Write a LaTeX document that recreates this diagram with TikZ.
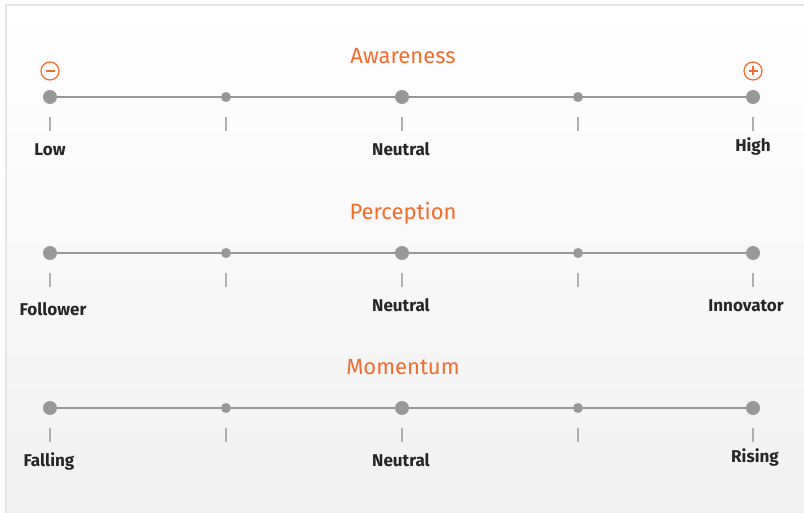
\documentclass[tikz,border=0pt]{standalone}
\usepackage{fontspec}
\setmainfont{Fira Sans}
\usetikzlibrary{positioning,calc}
\definecolor{accent}{RGB}{243,108,44}
\definecolor{axisgray}{RGB}{152,152,152}
\definecolor{tickgray}{RGB}{175,175,175}
\definecolor{panelline}{RGB}{230,230,230}
\definecolor{panelfill}{RGB}{241,241,241}
\tikzset{
bigdot/.style={circle, fill=axisgray, inner sep=0pt, minimum size=10.5pt},
smalldot/.style={circle, fill=axisgray, inner sep=0pt, minimum size=7.5pt},
axisline/.style={draw=axisgray, line width=2pt},
tickmark/.style={draw=tickgray, line width=1.1pt},
scaletitle/.style={text=accent, anchor=base, font=\fontsize{16.5}{19}\selectfont},
scalelabel/.style={text=black!85, anchor=base, font=\bfseries\fontsize{12.8}{15}\selectfont},
signmark/.style={circle, draw=accent, line width=0.9pt, inner sep=0pt, minimum size=13.5pt},
signbar/.style={draw=accent, line width=1pt},
}

\begin{document}
\begin{tikzpicture}[x=0.75pt, y=-0.75pt]
    \useasboundingbox (0,0) rectangle (804,513);
    \fill[white] (0,0) rectangle (804,513);
    \shade[top color=white, bottom color=panelfill, draw=panelline, line width=1.5pt]
        (6,5) rectangle (808,518);

    % three scales: name / y / title / low label / high label / label offsets
    \foreach \s/\y/\title/\lo/\hi/\loy/\hiy/\lox/\hix in {
        aw/97/Awareness/Low/High/59/55/50/753,
        pe/253/Perception/Follower/Innovator/63/59/53/746,
        mo/408/Momentum/Falling/Rising/59/55/49/755}{
        \node[bigdot]   (\s0) at (50,\y)  {};
        \node[smalldot] (\s1) at (226,\y) {};
        \node[bigdot]   (\s2) at (402,\y) {};
        \node[smalldot] (\s3) at (578,\y) {};
        \node[bigdot]   (\s4) at (753,\y) {};
        \draw[axisline] (\s0) -- (\s4);
        \foreach \i in {0,...,4}
            \draw[tickmark] ($(\s\i.center)+(0,20)$) -- ($(\s\i.center)+(0,34)$);
        \node[scaletitle] (\s title) at (403,\y-33) {\title};
        \node[scalelabel] (\s low)  at (\lox,\y+\loy) {\lo};
        \node[scalelabel] (\s mid)  at (401,\y+59)   {Neutral};
        \node[scalelabel] (\s high) at (\hix,\y+\hiy) {\hi};
    }

    % minus / plus markers
    \node[signmark] (minus) at (50,71)  {};
    \node[signmark] (plus)  at (753,71) {};
    \draw[signbar] ($(minus.center)+(-4.5,0)$) -- ($(minus.center)+(4.5,0)$);
    \draw[signbar] ($(plus.center)+(-4.5,0)$) -- ($(plus.center)+(4.5,0)$);
    \draw[signbar] ($(plus.center)+(0,-4.5)$) -- ($(plus.center)+(0,4.5)$);
\end{tikzpicture}
\end{document}
